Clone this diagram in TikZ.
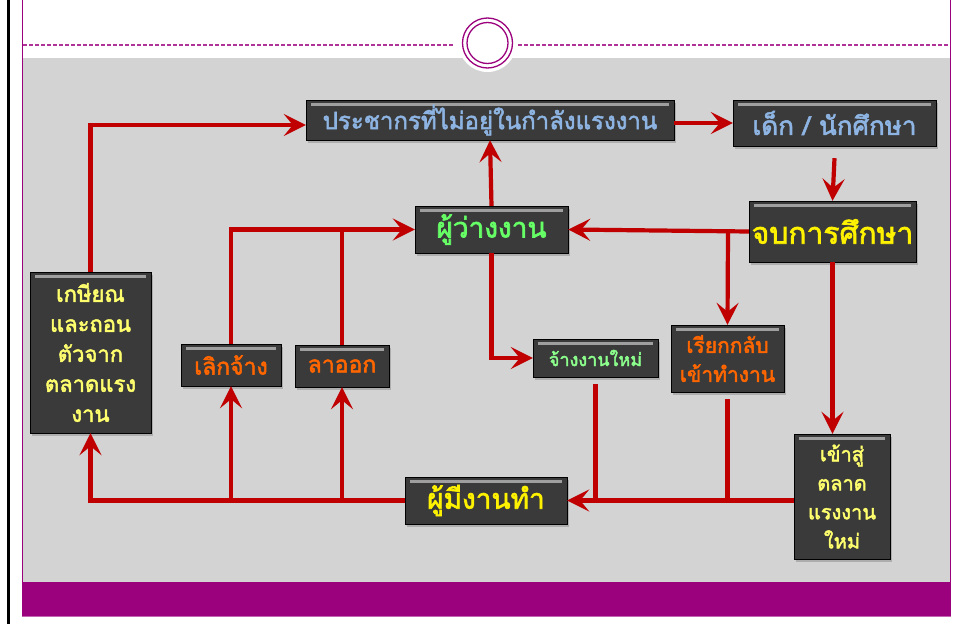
\documentclass[tikz,border=0pt]{standalone}
\usepackage{fontspec}
\newfontfamily\thaifont[Script=Thai, FakeBold=2.2]{Loma}
\usepackage{tikz}
\usetikzlibrary{arrows.meta,shadows}
\definecolor{slidegray}{RGB}{211,211,211}
\definecolor{plum}{RGB}{155,0,125}
\definecolor{boxgray}{RGB}{58,58,58}
\definecolor{flowred}{RGB}{192,0,0}
\definecolor{skyblue}{RGB}{141,180,226}
\definecolor{lightgreen}{RGB}{102,255,102}
\definecolor{mintgreen}{RGB}{140,255,140}
\definecolor{deeporange}{RGB}{255,102,0}
\definecolor{paleyellow}{RGB}{255,255,110}

\begin{document}
\begin{tikzpicture}[x=1pt, y=-1pt,
		box/.style={rectangle, draw=black, fill=boxgray, inner sep=0pt, align=center,
			font=\thaifont,
			drop shadow={shadow xshift=1.5pt, shadow yshift=-2.5pt, opacity=.45},
			path picture={\draw[line width=3pt, gray!75]
				([xshift=5pt, yshift=-4pt]path picture bounding box.north west) --
				([xshift=-5pt, yshift=-4pt]path picture bounding box.north east);}},
		flow/.style={draw=flowred, line width=4.2pt},
		>={Stealth[length=22pt, width=22pt, inset=9pt]}]
	\useasboundingbox (0,0) rectangle (956,624);
	% frame of the slide
	\fill[black] (7,0) rectangle (9.5,624);
	\fill[slidegray] (23,58) rectangle (950,582);
	\fill[plum] (22,582) rectangle (951,616);
	\draw[plum!60, line width=1pt] (22,616.5) -- (951,616.5);
	\draw[plum, line width=1pt] (22.5,0) -- (22.5,582);
	\draw[plum, line width=1pt] (950.5,0) -- (950.5,582);
	\draw[plum!80, line width=1.5pt, dash pattern=on 4pt off 2pt] (23,45) -- (453,45);
	\draw[plum!80, line width=1.5pt, dash pattern=on 4pt off 2pt] (518,45) -- (950,45);
	\fill[white] (487.5,43) circle (29);
	\draw[plum, line width=1.3pt] (487.5,43) circle (25);
	\draw[plum, line width=1.3pt] (487.5,43) circle (20.5);

	% boxes
	\node[box, minimum width=368, minimum height=40, text=skyblue, font=\thaifont\fontsize{24}{28}\selectfont]
		(pop) at (490,120) {ประชากรที่ไม่อยู่ในกำลังแรงงาน};
	\node[box, minimum width=203, minimum height=46, text=skyblue, font=\thaifont\fontsize{26}{30}\selectfont]
		(kid) at (834.5,123) {เด็ก / นักศึกษา};
	\node[box, minimum width=167, minimum height=61, text=yellow, font=\thaifont\fontsize{30}{34}\selectfont]
		(grad) at (832.5,231.5) {จบการศึกษา};
	\node[box, minimum width=153, minimum height=47, text=lightgreen, font=\thaifont\fontsize{28}{32}\selectfont]
		(unemp) at (491.5,229.5) {ผู้ว่างงาน};
	\node[box, minimum width=125, minimum height=38, text=mintgreen, font=\thaifont\fontsize{18}{22}\selectfont]
		(newjob) at (595.5,358) {จ้างงานใหม่};
	\node[box, minimum width=113, minimum height=67, text=deeporange, font=\thaifont\fontsize{21}{29}\selectfont]
		(recall) at (727.5,358.5) {เรียกกลับ\\เข้าทำงาน};
	\node[box, minimum width=100, minimum height=42, text=deeporange, font=\thaifont\fontsize{23}{26}\selectfont]
		(fire) at (231,365) {เลิกจ้าง};
	\node[box, minimum width=94, minimum height=42, text=deeporange, font=\thaifont\fontsize{23}{26}\selectfont]
		(quit) at (342,366) {ลาออก};
	\node[box, minimum width=121, minimum height=161, text=paleyellow, font=\thaifont\fontsize{22}{30}\selectfont]
		(retire) at (90.5,352.5) {เกษียณ\\และถอน\\ตัวจาก\\ตลาดแรง\\งาน};
	\node[box, minimum width=162, minimum height=47, text=yellow, font=\thaifont\fontsize{28}{32}\selectfont]
		(employed) at (486,500.5) {ผู้มีงานทำ};
	\node[box, minimum width=96, minimum height=125, text=paleyellow, font=\thaifont\fontsize{20}{29}\selectfont]
		(enter) at (842,496.5) {เข้าสู่\\ตลาด\\แรงงาน\\ใหม่};

	% flows
	\coordinate (split) at (728,232);
	\draw[flow, ->] (retire.north) |- ([yshift=-5pt]pop.west);
	\draw[flow, ->] (pop.east |- kid.west) -- (kid.west);
	\draw[flow, ->] ([yshift=-12pt]kid.south) -- (grad.north);
	\draw[flow, ->] (grad.west) -- (unemp.east);
	\draw[flow, ->] (split) -- (recall.north);
	\draw[flow, ->] (unemp.north) -- (pop.south);
	\draw[flow, ->] (unemp.south) |- (newjob.west);
	\draw[flow, ->] (grad.south) -- (grad.south |- enter.north);
	\draw[flow, ->] (enter.west |- employed.east) -- (employed.east);
	\foreach \n in {newjob,recall}
		\draw[flow] ([yshift=-7pt]\n.south) -- (\n.south |- employed.east);
	\draw[flow, ->] (employed.west) -| (retire.south);
	\foreach \n in {fire,quit}
		\draw[flow, ->] (\n.south |- employed.west) -- (\n.south);
	\draw[flow, ->] (fire.north) |- (unemp.west);
	\draw[flow] (quit.north) -- (quit.north |- unemp.west);
\end{tikzpicture}
\end{document}
